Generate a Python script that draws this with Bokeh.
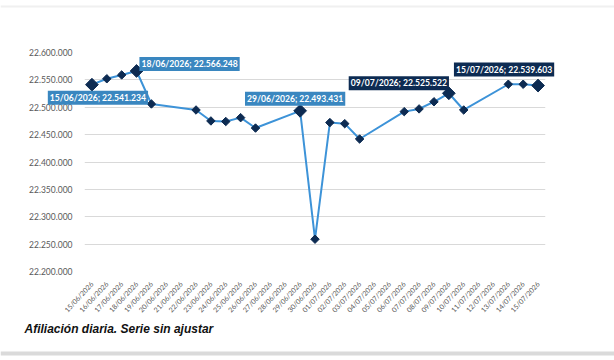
import math
from bokeh.plotting import figure
from bokeh.models import (ColumnDataSource, FixedTicker, Range1d, FactorRange, Label,
                          BoxAnnotation, GridBox, Column)
from bokeh.embed import file_html
from bokeh.resources import INLINE

# ---- data ----
all_dates = ["15/06/2026", "16/06/2026", "17/06/2026", "18/06/2026", "19/06/2026", "20/06/2026",
             "21/06/2026", "22/06/2026", "23/06/2026", "24/06/2026", "25/06/2026", "26/06/2026",
             "27/06/2026", "28/06/2026", "29/06/2026", "30/06/2026", "01/07/2026", "02/07/2026",
             "03/07/2026", "04/07/2026", "05/07/2026", "06/07/2026", "07/07/2026", "08/07/2026",
             "09/07/2026", "10/07/2026", "11/07/2026", "12/07/2026", "13/07/2026", "14/07/2026",
             "15/07/2026"]
obs_dates = ["15/06/2026", "16/06/2026", "17/06/2026", "18/06/2026", "19/06/2026",
             "22/06/2026", "23/06/2026", "24/06/2026", "25/06/2026", "26/06/2026",
             "29/06/2026", "30/06/2026", "01/07/2026", "02/07/2026", "03/07/2026",
             "06/07/2026", "07/07/2026", "08/07/2026", "09/07/2026", "10/07/2026",
             "13/07/2026", "14/07/2026", "15/07/2026"]
afiliados = [22541234, 22552000, 22559000, 22566248, 22506000,
             22495000, 22475000, 22474000, 22481000, 22462000,
             22493431, 22259000, 22472000, 22470000, 22442000,
             22492000, 22497000, 22510000, 22525522, 22495000,
             22542000, 22542000, 22539603]
labeled_dates = ["15/06/2026", "18/06/2026", "29/06/2026", "09/07/2026", "15/07/2026"]
y_ticks = [22200000, 22250000, 22300000, 22350000, 22400000, 22450000, 22500000, 22550000, 22600000]
caption = "Afiliación diaria. Serie sin ajustar"


def fmt(v):
    return f"{v:,}".replace(",", ".")


# ---- styling ----
W, H = 614, 360
B_LEFT, B_RIGHT, B_TOP, B_BOTTOM = 84, 69, 52, 89
Y0, Y1 = 22200000, 22600000
LINE = "#3d93d8"
NAVY = "#0d2b52"
BLUE_BOX = "#3a87c0"
# (x offset px, y offset px upward, box colour)
label_style = {
    "15/06/2026": (6, -13, BLUE_BOX),
    "18/06/2026": (53, 7, BLUE_BOX),
    "29/06/2026": (-5, 12, BLUE_BOX),
    "09/07/2026": (-50, 10, NAVY),
    "15/07/2026": (-34, 16, NAVY),
}

p = figure(width=W, height=H, x_range=FactorRange(*all_dates, range_padding=0),
           y_range=Range1d(Y0, Y1), output_backend="svg", toolbar_location=None,
           min_border_left=B_LEFT, min_border_right=B_RIGHT, min_border_top=B_TOP,
           min_border_bottom=B_BOTTOM)
p.outline_line_color = None
p.background_fill_color = "white"
p.border_fill_color = "white"

# axes
p.yaxis.ticker = FixedTicker(ticks=y_ticks)
p.yaxis.major_label_overrides = {t: fmt(t) for t in y_ticks}
p.yaxis.axis_line_color = None
p.yaxis.major_tick_line_color = None
p.yaxis.minor_tick_line_color = None
p.yaxis.major_label_standoff = 6
p.yaxis.major_label_text_font = "Lato"
p.yaxis.major_label_text_font_size = "8.5px"
p.yaxis.major_label_text_color = "#595959"

p.xaxis.axis_line_color = None
p.xaxis.major_tick_line_color = None
p.xaxis.major_label_orientation = math.radians(47)
p.xaxis.major_label_standoff = 5
p.xaxis.major_label_text_font = "Lato"
p.xaxis.major_label_text_font_size = "7px"
p.xaxis.major_label_text_color = "#595959"

p.xgrid.grid_line_color = None
p.ygrid.grid_line_color = "#d9d9d9"
p.ygrid.grid_line_width = 1

src = ColumnDataSource(dict(x=obs_dates, y=afiliados))
p.line("x", "y", source=src, line_color=LINE, line_width=2)
small = [d not in labeled_dates for d in obs_dates]
sx = [d for d, s in zip(obs_dates, small) if s]
sy = [v for v, s in zip(afiliados, small) if s]
p.scatter(sx, sy, marker="square", angle=math.pi / 4, size=6, fill_color=NAVY, line_color=NAVY)
bx = [d for d, s in zip(obs_dates, small) if not s]
by = [v for v, s in zip(afiliados, small) if not s]
p.scatter(bx, by, marker="square", angle=math.pi / 4, size=9, fill_color=NAVY, line_color=NAVY)

# ---- transparent overlay covering the whole canvas (labels may leave the plot frame) ----
n = len(all_dates)
px_x = n / (W - B_LEFT - B_RIGHT)          # factor units per pixel
px_y = (Y1 - Y0) / (H - B_TOP - B_BOTTOM)  # value units per pixel
ov = figure(width=W, height=H, output_backend="svg", toolbar_location=None,
            x_range=Range1d(-B_LEFT * px_x, n + B_RIGHT * px_x),
            y_range=Range1d(Y0 - B_BOTTOM * px_y, Y1 + B_TOP * px_y),
            x_axis_type=None, y_axis_type=None,
            min_border=0, min_border_left=0, min_border_right=0, min_border_top=0,
            min_border_bottom=0)
ov.outline_line_color = None
ov.background_fill_color = None
ov.border_fill_color = None
ov.grid.visible = False

for d, v in zip(obs_dates, afiliados):
    if d in labeled_dates:
        xo, yo, c = label_style[d]
        ov.add_layout(Label(x=all_dates.index(d) + 0.5, y=v, x_offset=xo, y_offset=yo,
                            text=f"{d}; {fmt(v)}",
                            text_align="center", text_baseline="middle", text_color="white",
                            text_font="Lato", text_font_style="bold", text_font_size="8.6px",
                            background_fill_color=c, padding=2))

ov.add_layout(Label(x=24, y=H - 328, x_units="screen", y_units="screen", text=caption,
                    text_font="'Liberation Sans Narrow', 'Liberation Sans'",
                    text_font_style="bold italic", text_font_size="12px", text_color="#111111",
                    text_baseline="middle"))

# card edges
ov.add_layout(BoxAnnotation(left=0, right=W, top=H - 5, bottom=H - 7, left_units="screen",
                            right_units="screen", top_units="screen", bottom_units="screen",
                            fill_color="#f0f0f0", fill_alpha=1, line_color=None))
ov.add_layout(BoxAnnotation(left=0, right=W, top=H - 351, bottom=H - 355, left_units="screen",
                            right_units="screen", top_units="screen", bottom_units="screen",
                            fill_color="#dadada", fill_alpha=1, line_color=None))

layout = GridBox(children=[(Column(p), 0, 0), (Column(ov), 0, 0)], width=W, height=H)
open("out.html", "w").write(file_html(layout, INLINE))
